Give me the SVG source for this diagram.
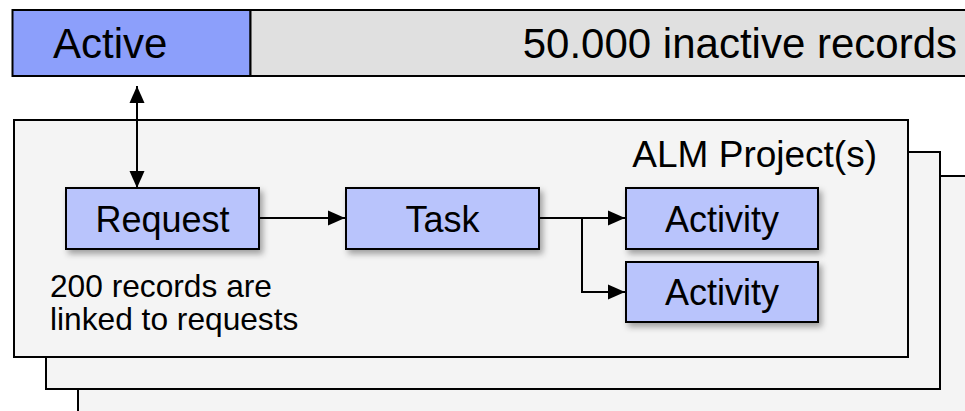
<svg xmlns="http://www.w3.org/2000/svg" width="965" height="411" viewBox="0 0 965 411">
<style>
text{font-family:"Liberation Sans",Arial,sans-serif;fill:#000}
.layer{fill:#f4f4f4;stroke:#000;stroke-width:2}
.node{fill:#b9c4fc;stroke:#000;stroke-width:2;filter:url(#sh)}
.lbl{font-size:36px;text-anchor:middle}
.note{font-size:31.7px}
.conn{fill:none;stroke:#000;stroke-width:2}
</style>
<defs>
<filter id="sh" x="-20%" y="-30%" width="140%" height="170%">
<feDropShadow dx="3" dy="4" stdDeviation="3" flood-color="#000" flood-opacity="0.35"/>
</filter>
<marker id="ah" markerUnits="userSpaceOnUse" markerWidth="17" markerHeight="17" viewBox="0 0 17 17" refX="17" refY="8.5" orient="auto-start-reverse">
<path d="M0,1 L17,8.5 L0,16 z" fill="#000"/>
</marker>
</defs>
<g id="bar">
<rect x="12.5" y="10" width="238" height="66" fill="#8c9ffb" stroke="#000" stroke-width="2"/>
<rect x="250.5" y="10" width="720" height="66" fill="#e0e0e0" stroke="#000" stroke-width="2"/>
<text x="53" y="58" font-size="42">Active</text>
<text x="957" y="58" font-size="42" text-anchor="end">50.000 inactive records</text>
</g>
<g id="layers">
<rect class="layer" x="78" y="176" width="900" height="250"/>
<rect class="layer" x="46" y="152" width="894" height="237"/>
<rect id="alm" class="layer" x="14" y="120" width="894" height="237"/>
<text x="877" y="166.5" font-size="37" text-anchor="end">ALM Project(s)</text>
<text class="note" x="50" y="297">200 records are</text>
<text class="note" x="50" y="330">linked to requests</text>
</g>
<g id="request"><rect class="node" x="66" y="188" width="193" height="61"/><text class="lbl" x="162.5" y="231.5">Request</text></g>
<g id="task"><rect class="node" x="346" y="188" width="193" height="61"/><text class="lbl" x="442.5" y="231.5">Task</text></g>
<g id="activity1"><rect class="node" x="626" y="188" width="192" height="61"/><text class="lbl" x="722" y="231.5">Activity</text></g>
<g id="activity2"><rect class="node" x="626" y="262" width="192" height="60"/><text class="lbl" x="722" y="304.5">Activity</text></g>
<g id="connectors">
<line class="conn" x1="137" y1="86" x2="137" y2="188" marker-start="url(#ah)" marker-end="url(#ah)"/>
<line class="conn" x1="259" y1="218" x2="345" y2="218" marker-end="url(#ah)"/>
<line class="conn" x1="539" y1="218" x2="625" y2="218" marker-end="url(#ah)"/>
<polyline class="conn" points="582,218 582,292 625,292" marker-end="url(#ah)"/>
</g>
</svg>
